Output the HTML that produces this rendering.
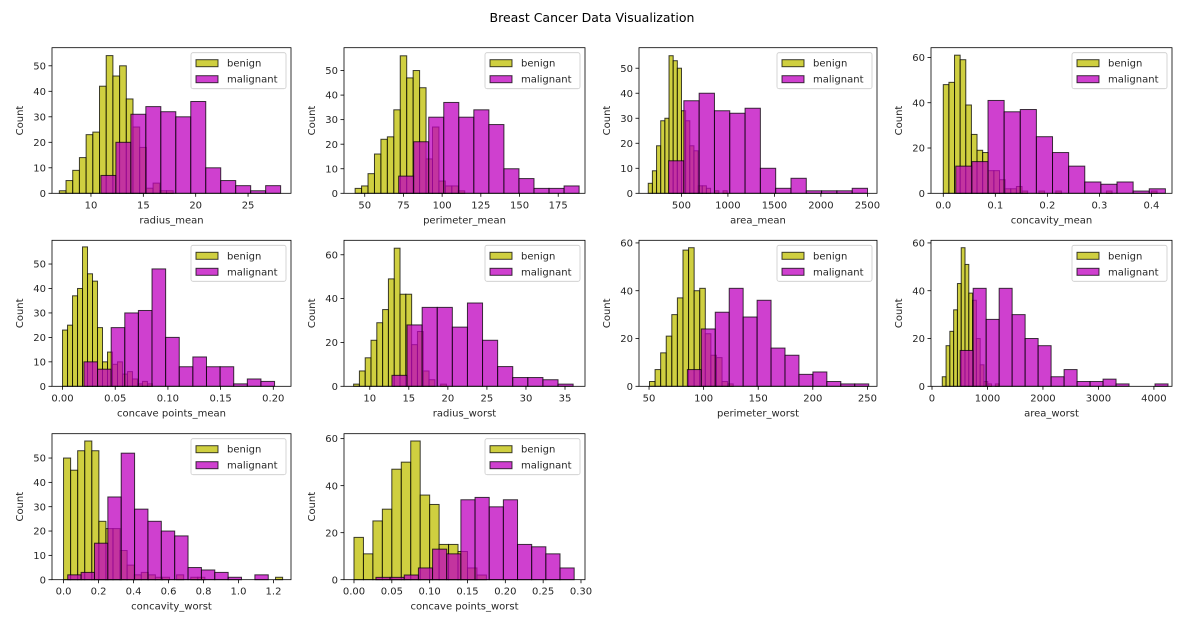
<!DOCTYPE html>
<html><head><meta charset="utf-8"><style>
html,body{margin:0;padding:0;background:#fff;}
svg{display:block;font-family:"DejaVu Sans","Liberation Sans",sans-serif;}
</style></head><body>
<svg id="fig" width="1200" height="638" viewBox="0 0 1200 638">
<text x="592" y="22" text-anchor="middle" font-size="12.5" fill="#000">Breast Cancer Data Visualization</text>
</svg>
<script>
// ---- data ----
const features = ["radius_mean","perimeter_mean","area_mean","concavity_mean","concave points_mean","radius_worst","perimeter_worst","area_worst","concavity_worst","concave points_worst"];
const benignRange = [[6.98,17.85],[43.79,114.6],[143.5,992.1],[0,0.4108],[0,0.08534],[7.93,19.82],[50.41,127.1],[185.2,1210],[0,1.252],[0,0.175]];
const malignantRange = [[10.95,28.11],[71.9,188.5],[361.6,2501],[0.02398,0.4268],[0.02031,0.2012],[12.84,36.04],[85.1,251.2],[508.1,4254],[0.02398,1.17],[0.02899,0.291]];
const benignCounts = [
 [1,5,9,14,23,24,42,54,46,50,37,26,18,2,4,1,1],
 [2,3,8,16,22,23,34,56,47,50,43,14,27,5,3,3,1],
 [4,9,19,29,30,55,53,50,33,29,19,17,3,3,2,0,1,0,1],
 [48,49,61,59,39,26,19,18,10,10,6,2,2,3,1,0,0,1,0,0,1,0,0,0,0,0,0,0,0,1,0,0,0,0,0,0,0,1],
 [23,25,37,40,57,46,43,24,10,14,9,10,5,6,3,1,2,1],
 [1,7,13,21,29,35,49,63,42,42,19,25,7,3,0,1],
 [2,7,14,21,30,37,57,58,40,41,22,13,12,2,1],
 [4,17,23,32,43,58,51,39,36,20,9,2,1,0,1],
 [50,45,53,57,53,24,21,21,12,6,2,3,2,1,1,0,2,0,1,1,0,0,0,0,0,0,0,0,0,0,1],
 [18,11,25,30,47,50,59,36,32,15,15,12,5,2]
];
const malignantCounts = [
 [7,20,31,34,32,30,36,10,5,3,1,3],
 [7,21,31,37,31,34,28,10,6,2,2,3],
 [13,37,40,33,32,34,10,2,6,1,1,1,2],
 [12,14,41,36,37,25,18,12,5,4,5,1,2],
 [10,7,24,30,31,48,20,8,12,8,8,1,3,2],
 [5,28,36,36,27,38,21,9,4,4,3,1],
 [7,24,31,41,29,36,16,13,5,6,2,1,1],
 [15,41,28,41,30,20,17,4,7,2,2,3,1,0,0,1],
 [2,3,15,34,52,29,24,20,18,5,4,3,1,0,2],
 [1,1,2,5,13,11,34,35,31,34,15,14,11,5]
];
const xLimits = [[6.28,29.1],[36.6,192.3],[44,2603],[-0.0236,0.4395],[-0.01,0.2168],[6.7,37.56],[40.8,258.8],[-18,4326],[-0.066,1.30],[-0.0132,0.3053]];
const yMax = [57.1,59.3,58.2,64.3,59.7,66.6,61.1,61.1,60,62.1];
const xTicks = [[10,15,20,25],[50,75,100,125,150,175],[500,1000,1500,2000,2500],[0,0.1,0.2,0.3,0.4],[0,0.05,0.1,0.15,0.2],[10,15,20,25,30,35],[50,100,150,200,250],[0,1000,2000,3000,4000],[0,0.2,0.4,0.6,0.8,1.0,1.2],[0,0.05,0.1,0.15,0.2,0.25,0.3]];
const xTickLabels = [["10","15","20","25"],["50","75","100","125","150","175"],["500","1000","1500","2000","2500"],["0.0","0.1","0.2","0.3","0.4"],["0.00","0.05","0.10","0.15","0.20"],["10","15","20","25","30","35"],["50","100","150","200","250"],["0","1000","2000","3000","4000"],["0.0","0.2","0.4","0.6","0.8","1.0","1.2"],["0.00","0.05","0.10","0.15","0.20","0.25","0.30"]];
const yTicks = [[0,10,20,30,40,50],[0,10,20,30,40,50],[0,10,20,30,40,50],[0,20,40,60],[0,10,20,30,40,50],[0,20,40,60],[0,20,40,60],[0,20,40,60],[0,10,20,30,40,50],[0,20,40,60]];
// ---- layout ----
const colBox = [[52,291],[344,585],[639,877],[931,1172]];
const rowBox = [[47.7,193.3],[240.3,386.3],[433.7,579.7]];
const NS = "http://www.w3.org/2000/svg";
const fig = document.getElementById('fig');
function mk(tag, attrs, parent){const e=document.createElementNS(NS,tag);for(const k in attrs)e.setAttribute(k,attrs[k]);(parent||fig).appendChild(e);return e;}

features.forEach((feat,i)=>{
  const L=colBox[i%4][0], R=colBox[i%4][1], T=rowBox[Math.floor(i/4)][0], B=rowBox[Math.floor(i/4)][1];
  const [x0,x1]=xLimits[i];
  const sx=v=>L+(v-x0)/(x1-x0)*(R-L);
  const sy=v=>B-v/yMax[i]*(B-T);
  const g=mk('g',{});
  
  
  const drawSeries=(range,counts,color,name)=>{
    const w=(range[1]-range[0])/counts.length;
    counts.forEach((c,j)=>{
      if(c<=0) return;
      const a=range[0]+j*w;
      const r=mk('rect',{x:sx(a),y:sy(c),width:sx(a+w)-sx(a),height:B-sy(c),fill:color,'fill-opacity':0.75,stroke:'#000','stroke-opacity':0.75,'stroke-width':1},g);
      
      
    });
  };
  drawSeries(benignRange[i],benignCounts[i],'#bfbf00','benign');
  drawSeries(malignantRange[i],malignantCounts[i],'#bf00bf','malignant');
  const ax=mk('rect',{x:L,y:T,width:R-L,height:B-T,fill:'none',stroke:'#000','stroke-width':0.8},g);
  
  
  xTicks[i].forEach((t,k)=>{
    const x=sx(t);
    mk('line',{x1:x,x2:x,y1:B,y2:B+3.5,stroke:'#000','stroke-width':0.8},g);
    const tx=mk('text',{x:x,y:B+15,'text-anchor':'middle','font-size':10,fill:'#262626'},g);
    tx.textContent=xTickLabels[i][k];
    
    
  });
  yTicks[i].forEach(t=>{
    const y=sy(t);
    mk('line',{x1:L-3.5,x2:L,y1:y,y2:y,stroke:'#000','stroke-width':0.8},g);
    const tx=mk('text',{x:L-6,y:y+3.6,'text-anchor':'end','font-size':10,fill:'#262626'},g);
    tx.textContent=String(t);
    
    
  });
  const xl=mk('text',{x:(L+R)/2,y:B+30,'text-anchor':'middle','font-size':10,fill:'#262626'},g);
  xl.textContent=feat;
  
  
  const yl=mk('text',{x:0,y:0,'text-anchor':'middle','font-size':10,fill:'#262626',transform:`translate(${L-29},${(T+B)/2}) rotate(-90)`},g);
  yl.textContent='Count';
  
  
  // legend
  const lg=mk('g',{},g);
  
  
  mk('rect',{x:R-100,y:T+5,width:95,height:36,rx:2,fill:'#fff','fill-opacity':0.8,stroke:'#ccc','stroke-width':0.8},lg);
  [['benign','#bfbf00'],['malignant','#bf00bf']].forEach(([lab,col],k)=>{
    const yy=T+12+k*16;
    const p=mk('rect',{x:R-95,y:yy,width:22,height:7,fill:col,'fill-opacity':0.75,stroke:'#000','stroke-opacity':0.75,'stroke-width':1},lg);
    
    
    const t=mk('text',{x:R-64,y:yy+7,'font-size':10,fill:'#262626'},lg);
    t.textContent=lab;
    
    
  });
});
</script>
</body></html>
